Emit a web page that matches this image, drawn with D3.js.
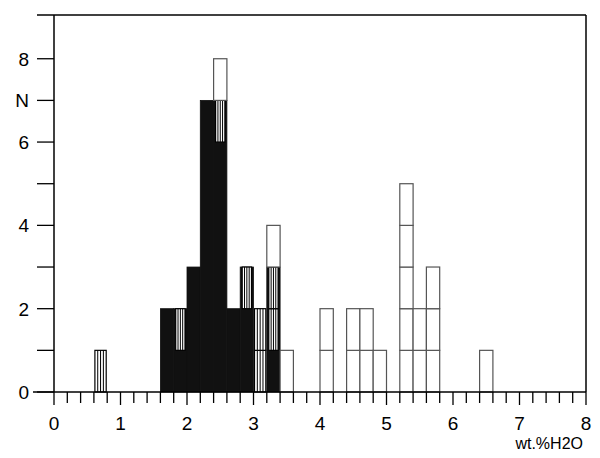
<!DOCTYPE html>
<html>
<head>
<meta charset="utf-8">
<script src="https://cdn.jsdelivr.net/npm/d3@7"></script>
<style>
body { margin: 0; background: #fff; }
text { font-family: "Liberation Sans", Arial, sans-serif; }
</style>
</head>
<body>
<div id="chart"></div>
<script>
// bin lower edges (wt.% H2O, width 0.2) and counts per group
var binStart = [0.6, 1.6, 1.8, 2.0, 2.2, 2.4, 2.6, 2.8, 3.0, 3.2, 3.4, 4.0, 4.4, 4.6, 4.8, 5.2, 5.4, 5.6, 6.4];
var blackN   = [0,   2,   1,   3,   7,   6,   2,   2,   0,   1,   0,   0,   0,   0,   0,   0,   0,   0,   0];
var stripeN  = [1,   0,   1,   0,   0,   1,   0,   1,   2,   2,   0,   0,   0,   0,   0,   0,   0,   0,   0];
var whiteN   = [0,   0,   0,   0,   0,   1,   0,   0,   0,   1,   1,   2,   2,   2,   1,   5,   2,   3,   1];
var binW = 0.2;
var yLabels = [[0, "0"], [2, "2"], [4, "4"], [6, "6"], [7, "N"], [8, "8"]];

var width = 600, height = 458;
var svg = d3.select("#chart").append("svg").attr("width", width).attr("height", height);

var x = d3.scaleLinear().domain([0, 8]).range([54, 586]);
var y = d3.scaleLinear().domain([0, 9.05]).range([392, 15]);

// frame
svg.append("line").attr("x1", 37).attr("x2", 586).attr("y1", y(9.05)).attr("y2", y(9.05)).attr("stroke", "#000").attr("stroke-width", 1.5);
svg.append("line").attr("x1", 586).attr("x2", 586).attr("y1", y(9.05)).attr("y2", y(0)).attr("stroke", "#000").attr("stroke-width", 1.5);

var g = svg.append("g");

binStart.forEach(function(b, i) {
  var x0 = x(b), x1 = x(b + binW);
  var base = 0;
  // black part, also behind striped cells of the same bin
  if (blackN[i] > 0) {
    var top = blackN[i] + stripeN[i];
    g.append("rect").attr("x", x0).attr("y", y(top)).attr("width", x1 - x0)
      .attr("height", y(0) - y(top)).attr("fill", "#111").attr("stroke", "#111").attr("stroke-width", 0.8);
    base = blackN[i];
  }
  // striped cells
  for (var k = 0; k < stripeN[i]; k++) {
    var lo = base + k, hi = lo + 1;
    var inset = blackN[i] > 0 ? 2 : 1;
    var cx0 = x0 + inset, cx1 = x1 - inset;
    g.append("rect").attr("x", cx0).attr("y", y(hi)).attr("width", cx1 - cx0)
      .attr("height", y(lo) - y(hi)).attr("fill", "#fff").attr("stroke", "#000").attr("stroke-width", 1.2);
    [0.25, 0.5, 0.75].forEach(function(f) {
      var lx = cx0 + f * (cx1 - cx0);
      g.append("line").attr("x1", lx).attr("x2", lx).attr("y1", y(hi)).attr("y2", y(lo))
        .attr("stroke", "#000").attr("stroke-width", 1);
    });
  }
  base += stripeN[i];
  // white cells
  for (var k = 0; k < whiteN[i]; k++) {
    var lo = base + k, hi = lo + 1;
    g.append("rect").attr("x", x0).attr("y", y(hi)).attr("width", x1 - x0)
      .attr("height", y(lo) - y(hi)).attr("fill", "#fff").attr("stroke", "#555").attr("stroke-width", 1.2);
  }
});

// x axis
svg.append("line").attr("x1", 33).attr("x2", 586).attr("y1", y(0)).attr("y2", y(0)).attr("stroke", "#000").attr("stroke-width", 1.5);
d3.range(0, 41).forEach(function(j) {
  var v = j * 0.2;
  svg.append("line").attr("x1", x(v)).attr("x2", x(v)).attr("y1", y(0))
    .attr("y2", y(0) + (j % 5 === 0 ? 13 : 11)).attr("stroke", "#000").attr("stroke-width", 1.3);
});
d3.range(0, 9).forEach(function(v) {
  svg.append("text").attr("x", x(v)).attr("y", 430).attr("text-anchor", "middle")
    .attr("font-size", 19).text(v);
});
svg.append("text").attr("x", 583).attr("y", 449).attr("text-anchor", "end").attr("font-size", 16).text("wt.%H2O");

// y axis
svg.append("line").attr("x1", 54).attr("x2", 54).attr("y1", y(9.05)).attr("y2", y(0)).attr("stroke", "#000").attr("stroke-width", 1.5);
d3.range(0, 9).forEach(function(v) {
  svg.append("line").attr("x1", 37).attr("x2", 54).attr("y1", y(v)).attr("y2", y(v)).attr("stroke", "#000").attr("stroke-width", 1.3);
});
yLabels.forEach(function(d) {
  svg.append("text").attr("x", 29).attr("y", y(d[0])).attr("dy", "0.36em").attr("text-anchor", "end")
    .attr("font-size", 19).text(d[1]);
});
</script>
</body>
</html>
